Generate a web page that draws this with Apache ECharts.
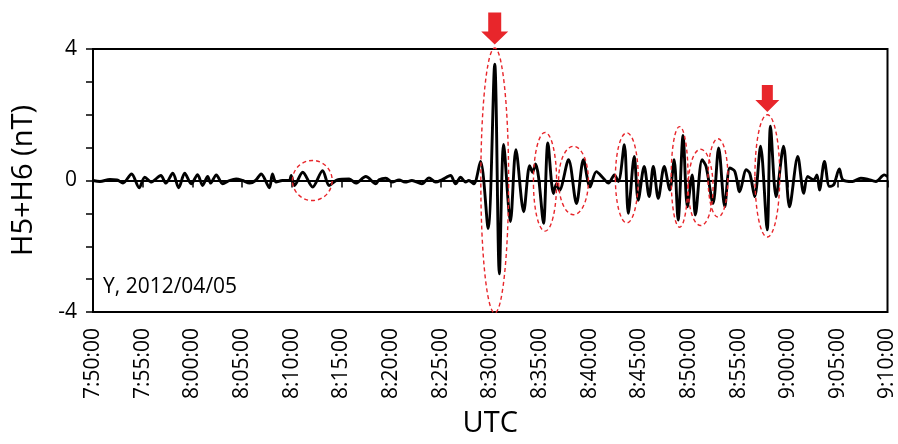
<!DOCTYPE html>
<html>
<head>
<meta charset="utf-8">
<script src="https://cdn.jsdelivr.net/npm/echarts@6/dist/echarts.min.js"></script>
<style>
  html, body { margin: 0; padding: 0; background: #fff; }
  #chart { width: 898px; height: 444px; }
</style>
</head>
<body>
<div id="chart"></div>
<script>
// seconds after 7:50:00 UTC
var times = [0, 42, 102, 145, 181, 233, 279, 313, 354, 373, 410, 440, 482, 518, 554, 594, 632, 662, 693, 711,
  745, 783, 825, 865, 904, 946, 982, 1016, 1066, 1084, 1106, 1144, 1186, 1197, 1217, 1267, 1327, 1387, 1427, 1476,
  1548, 1588, 1648, 1709, 1728, 1769, 1807, 1849, 1885, 1927, 1987, 2030, 2070, 2108, 2160, 2190, 2221, 2251, 2270, 2301,
  2341, 2387, 2427, 2455, 2481, 2522, 2555, 2602, 2638, 2656, 2674, 2692, 2722, 2748, 2782, 2800, 2818, 2873, 2921, 2963,
  3003, 3041, 3083, 3114, 3150, 3174, 3210, 3234, 3270, 3294, 3330, 3360, 3385, 3415, 3451, 3485, 3511, 3535, 3565, 3591,
  3620, 3639, 3680, 3704, 3746, 3780, 3817, 3847, 3877, 3907, 3947, 3968, 3998, 4033, 4073, 4093, 4127, 4172, 4208, 4258,
  4294, 4318, 4354, 4374, 4389, 4419, 4449, 4475, 4509, 4530, 4589, 4639, 4679, 4730, 4780, 4800];
// H5+H6 (nT)
var values = [0, -0.03, 0.03, 0.02, -0.08, 0.2, -0.22, 0.1, -0.05, 0.02, 0.15, -0.08, 0.22, -0.22, 0.22, -0.1, 0.18, -0.15, 0.12, -0.08,
  0.17, -0.1, 0.0, 0.05, 0.0, -0.08, 0.0, 0.2, -0.22, 0.2, -0.05, 0.0, 0.0, 0.15, -0.15, 0.25, -0.2, 0.3, -0.15, 0.02,
  0.05, -0.08, 0.12, -0.1, 0.02, 0.07, -0.05, 0.02, -0.05, 0.0, -0.1, 0.08, -0.05, 0.02, 0.15, -0.1, 0.1, -0.05, 0.0, -0.1,
  0.58, -1.46, 3.54, -2.84, 1.1, -1.25, 0.94, -0.95, 0.45, 0.25, 0.5, 0.1, -1.3, 1.14, -0.4, -0.1, -0.3, 0.63, -0.7, 0.63,
  -0.2, 0.27, 0.07, -0.08, 0.17, -0.03, 1.09, -1.0, 0.73, -0.6, 0.43, -0.49, 0.43, -0.54, 0.43, -0.29, 0.63, -1.2, 1.37, -0.8,
  0.17, -1.05, 0.63, 0.43, -0.7, 0.99, -0.8, 0.38, 0.28, -0.34, 0.33, 0.22, -0.49, 1.04, -1.5, 1.65, -0.49, 1.04, -0.8, 0.73,
  -0.39, 0.12, 0.02, 0.17, -0.29, 0.58, -0.18, -0.13, 0.35, 0.02, -0.03, 0.07, 0.04, -0.03, 0.17, 0.12];
var yLabels = [-4, 0, 4];
// highlighted wave packets: [time s, centre nT, half width s, half height nT]
var ellipses = [[1325, 0, 120, 0.61], [2427, 0, 84, 4.03], [2731, -0.04, 70, 1.5], [2903, 0, 90, 1.04],
  [3225, 0.08, 69, 1.37], [3544, 0.11, 51, 1.53], [3671, -0.21, 75, 1.16], [3776, 0.08, 60, 1.19], [4074, 0.14, 75, 1.86]];
// arrows: [time s, tip nT]
var arrows = [[2427, 4.14], [4074, 2.08]];

var startSec = 7 * 3600 + 50 * 60;
function fmtTime(s) {
  var t = startSec + s;
  var h = Math.floor(t / 3600), m = Math.floor((t % 3600) / 60), sec = t % 60;
  return h + ':' + (m < 10 ? '0' : '') + m + ':' + (sec < 10 ? '0' : '') + sec;
}

var font = 'Open Sans';
var clear = 'rgba(0,0,0,0)';
var chart = echarts.init(document.getElementById('chart'));
chart.setOption({
  animation: false,
  grid: { left: 93, right: 8, top: 49, bottom: 132, show: true, borderColor: '#000', borderWidth: 2 },
  xAxis: {
    type: 'value', min: 0, max: 4800, interval: 300,
    name: 'UTC', nameLocation: 'middle', nameGap: 97,
    nameTextStyle: { fontFamily: font, fontSize: 29, color: '#000' },
    axisLine: { lineStyle: { color: '#000', width: 2 } },
    axisTick: { length: 7, lineStyle: { color: '#000', width: 1.5 } },
    axisLabel: { rotate: 90, margin: 16, fontFamily: font, fontSize: 21, color: '#000', formatter: fmtTime },
    splitLine: { show: false }
  },
  yAxis: {
    type: 'value', min: -4, max: 4, interval: 1,
    name: 'H5+H6 (nT)', nameLocation: 'middle', nameGap: 55,
    nameTextStyle: { fontFamily: font, fontSize: 29, color: '#000' },
    axisLine: { show: true, lineStyle: { color: '#000', width: 2 } },
    axisTick: { show: true, length: 7, lineStyle: { color: '#000', width: 1.5 } },
    axisLabel: { margin: 16, fontFamily: font, fontSize: 21, color: '#000',
      formatter: function (v) { return yLabels.indexOf(v) >= 0 ? String(v) : ''; } },
    splitLine: { show: true, showMinLine: true, showMaxLine: true,
      lineStyle: { width: 1.2, color: [clear, clear, clear, clear, '#a0a0a0', clear, clear, clear, clear] } }
  },
  series: [{
    type: 'line',
    data: times.map(function (t, i) { return [t, values[i]]; }),
    smooth: 0.3,
    showSymbol: false,
    lineStyle: { color: '#000', width: 2.9 }
  }]
});

var red = '#e8262b';
var g = [];
ellipses.forEach(function (e) {
  var c = chart.convertToPixel({ gridIndex: 0 }, [e[0], e[1]]);
  var p = chart.convertToPixel({ gridIndex: 0 }, [e[0] + e[2], e[1] + e[3]]);
  g.push({ type: 'ellipse', silent: true, z: 100,
    shape: { cx: c[0], cy: c[1], rx: Math.abs(p[0] - c[0]), ry: Math.abs(c[1] - p[1]) },
    style: { fill: 'none', stroke: red, lineWidth: 1.4, lineDash: [4, 3] } });
});
arrows.forEach(function (a, i) {
  var tip = chart.convertToPixel({ gridIndex: 0 }, [a[0], a[1]]);
  var big = i === 0;
  var sw = big ? 6.5 : 5.5, hw = big ? 13.5 : 12, hh = big ? 13 : 12, sh = big ? 19 : 15;
  var x = tip[0], y = tip[1];
  g.push({ type: 'polygon', silent: true, z: 101,
    shape: { points: [[x, y], [x - hw, y - hh], [x - sw, y - hh], [x - sw, y - hh - sh],
      [x + sw, y - hh - sh], [x + sw, y - hh], [x + hw, y - hh]] },
    style: { fill: red } });
});
g.push({ type: 'text', left: 103, top: 277, z: 100,
  style: { text: 'Y, 2012/04/05', fontFamily: font, fontSize: 21, fill: '#000' } });
chart.setOption({ graphic: g });
</script>
</body>
</html>
